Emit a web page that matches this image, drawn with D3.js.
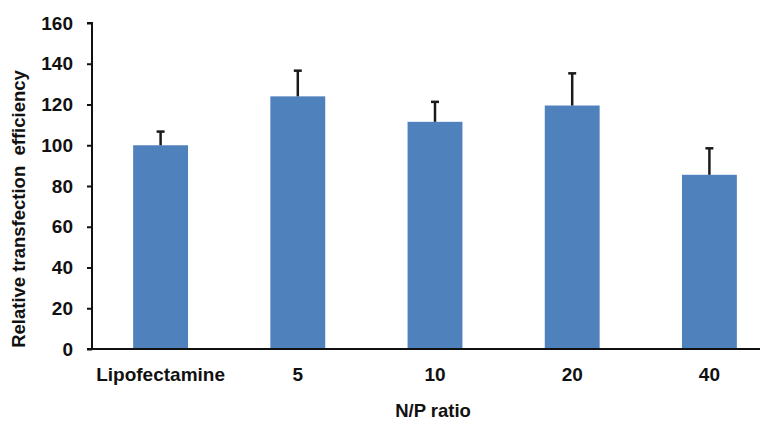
<!DOCTYPE html>
<html>
<head>
<meta charset="utf-8">
<script src="https://cdn.jsdelivr.net/npm/d3@7"></script>
<style>
  body { margin: 0; background: #fff; }
  svg { display: block; font-family: "Liberation Sans", Arial, sans-serif; }
</style>
</head>
<body>
<div id="chart"></div>
<script>
// data
var categories = ['Lipofectamine', '5', '10', '20', '40'];
var values = [100, 124, 111.5, 119.5, 85.5];
var errors = [6.7, 12.6, 9.8, 15.8, 13];
var yTicks = [0, 20, 40, 60, 80, 100, 120, 140, 160];

var chartW = 763, chartH = 422;
var plotLeft = 92, plotBottom = 349, plotTop = 23, axisEnd = 760;

var svg = d3.select('#chart').append('svg')
  .attr('width', chartW)
  .attr('height', chartH);

var x = d3.scaleBand()
  .domain(categories)
  .range([plotLeft, 778])
  .paddingInner(0.6)
  .paddingOuter(0.3);

var y = d3.scaleLinear()
  .domain([0, 160])
  .range([plotBottom, plotTop]);

// bars
svg.append('g').selectAll('rect')
  .data(values)
  .enter().append('rect')
  .attr('x', function(d, i) { return x(categories[i]); })
  .attr('y', function(d) { return y(d); })
  .attr('width', x.bandwidth())
  .attr('height', function(d) { return y(0) - y(d); })
  .attr('fill', '#4f81bd');

// error bars (upper only)
var err = svg.append('g').attr('stroke', '#1a1a1a').attr('stroke-width', 2.5);
values.forEach(function(v, i) {
  var cx = x(categories[i]) + x.bandwidth() / 2;
  err.append('line')
    .attr('x1', cx).attr('x2', cx)
    .attr('y1', y(v)).attr('y2', y(v + errors[i]));
  err.append('line')
    .attr('x1', cx - 4).attr('x2', cx + 4)
    .attr('y1', y(v + errors[i])).attr('y2', y(v + errors[i]));
});

// y axis
var yAxis = svg.append('g')
  .attr('transform', 'translate(' + plotLeft + ',0)')
  .call(d3.axisLeft(y).tickValues(yTicks).tickSize(5).tickPadding(14));
yAxis.select('.domain').attr('stroke', '#111').attr('stroke-width', 2).attr('d', 'M-5,' + plotTop + 'H0V' + plotBottom);
yAxis.selectAll('.tick line').attr('stroke', '#111').attr('stroke-width', 2);
yAxis.selectAll('.tick text')
  .attr('fill', '#111')
  .style('font-size', '19px')
  .style('font-weight', 'bold')
  .style('font-family', '"Liberation Sans", Arial, sans-serif');

// x axis
var xAxis = svg.append('g')
  .attr('transform', 'translate(0,' + plotBottom + ')')
  .call(d3.axisBottom(x).tickSize(0).tickPadding(19));
xAxis.select('.domain').remove();
xAxis.selectAll('.tick text')
  .attr('fill', '#111')
  .style('font-size', '19px')
  .style('font-weight', 'bold')
  .style('font-family', '"Liberation Sans", Arial, sans-serif');
svg.append('line')
  .attr('x1', plotLeft - 5).attr('x2', axisEnd)
  .attr('y1', plotBottom).attr('y2', plotBottom)
  .attr('stroke', '#111').attr('stroke-width', 2);

// axis titles
svg.append('text')
  .attr('x', 433)
  .attr('y', 417)
  .attr('text-anchor', 'middle')
  .attr('fill', '#111')
  .style('font-size', '18.5px')
  .style('font-weight', 'bold')
  .text('N/P ratio');

svg.append('text')
  .attr('transform', 'translate(25,209) rotate(-90)')
  .attr('text-anchor', 'middle')
  .attr('fill', '#111')
  .style('font-size', '18.5px')
  .style('font-weight', 'bold')
  .style('white-space', 'pre')
  .text('Relative transfection  efficiency');
</script>
</body>
</html>
